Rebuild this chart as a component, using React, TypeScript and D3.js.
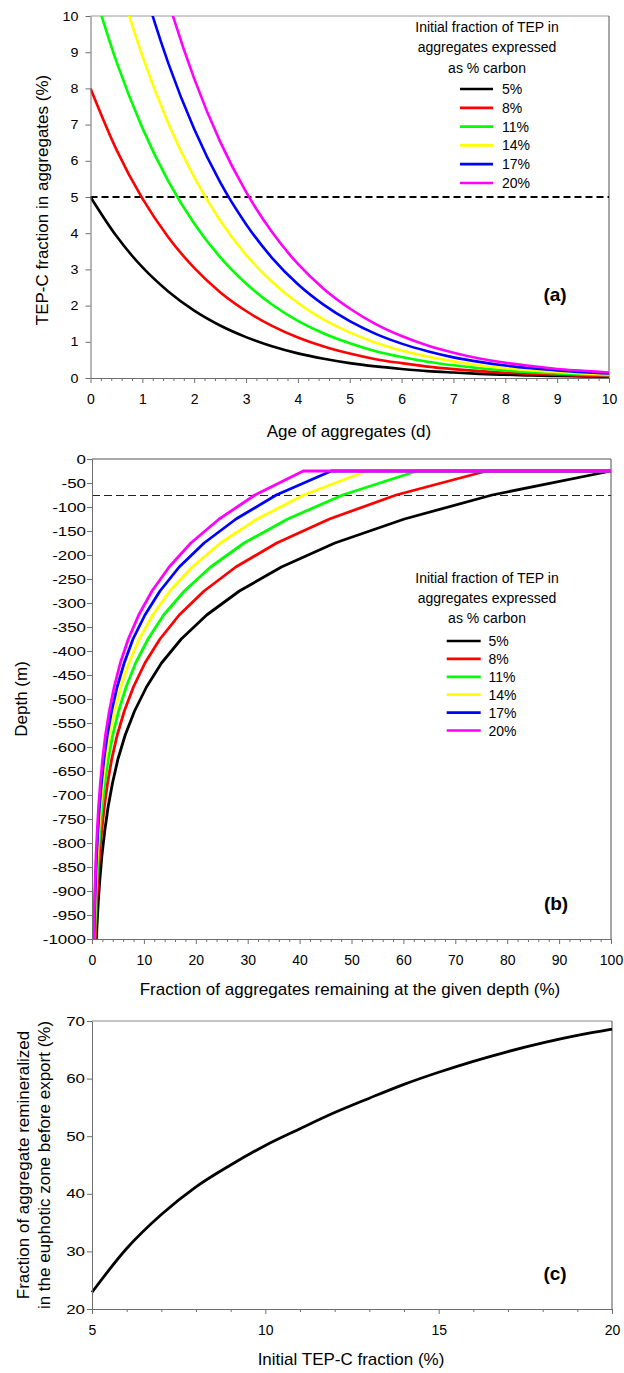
import React, { useEffect, useRef } from 'react';
import * as d3 from 'd3';

const W = 624;
const H = 1373;
const FONT = 'Liberation Sans, Arial, Helvetica, sans-serif';

// legend: initial TEP fraction (% carbon)
const initialFractions = ['5%', '8%', '11%', '14%', '17%', '20%'];
const seriesColors = ['#000000', '#ff0000', '#00ff00', '#ffff00', '#0000ff', '#ff00ff'];

// (a) TEP-C fraction in aggregates vs age
const ageDays = [0, 0.5, 1, 1.5, 2, 2.5, 3, 3.5, 4, 4.5, 5, 5.5, 6, 6.5, 7, 7.5, 8, 8.5, 9, 9.5, 10];
const tep5 = [5, 3.92, 3.06, 2.39, 1.86, 1.45, 1.13, 0.875, 0.68, 0.53, 0.41, 0.32, 0.25, 0.19, 0.15, 0.115, 0.09, 0.07, 0.054, 0.042, 0.032];
const tep8 = [8, 6.31, 4.96, 3.89, 3.04, 2.37, 1.85, 1.44, 1.12, 0.87, 0.675, 0.52, 0.41, 0.315, 0.245, 0.19, 0.147, 0.114, 0.089, 0.069, 0.053];
const tep11 = [11, 8.74, 6.91, 5.44, 4.27, 3.34, 2.61, 2.03, 1.58, 1.23, 0.96, 0.74, 0.58, 0.45, 0.35, 0.27, 0.21, 0.16, 0.126, 0.098, 0.075];
const tep14 = [14, 11.2, 8.9, 7.04, 5.55, 4.35, 3.4, 2.66, 2.07, 1.61, 1.26, 0.975, 0.76, 0.59, 0.46, 0.35, 0.27, 0.21, 0.166, 0.128, 0.099];
const tep17 = [17, 13.7, 10.95, 8.7, 6.88, 5.41, 4.25, 3.32, 2.59, 2.02, 1.57, 1.22, 0.95, 0.74, 0.57, 0.445, 0.345, 0.27, 0.21, 0.16, 0.125];
const tep20 = [20, 16.2, 13.05, 10.42, 8.27, 6.53, 5.14, 4.03, 3.15, 2.46, 1.92, 1.49, 1.16, 0.9, 0.7, 0.54, 0.42, 0.33, 0.25, 0.2, 0.15];
const tepThreshold = 5;

// (b) fraction of aggregates remaining vs depth
const depthM = [-25, -25, -75, -125, -175, -225, -275, -325, -375, -425, -475, -525, -575, -625, -675, -725, -775, -825, -875, -925, -975, -1000];
const remain5 = [100, 100, 77.1, 60.2, 46.8, 36.5, 28.4, 22.1, 17.2, 13.4, 10.5, 8.2, 6.4, 5.0, 3.95, 3.1, 2.45, 1.92, 1.52, 1.2, 0.95, 0.85];
const remain8 = [100, 76, 58.6, 45.75, 35.6, 27.7, 21.6, 16.8, 13.1, 10.2, 7.98, 6.23, 4.86, 3.8, 3.0, 2.36, 1.86, 1.46, 1.16, 0.91, 0.72, 0.65];
const remain11 = [100, 62.6, 48.3, 37.7, 29.3, 22.85, 17.8, 13.8, 10.8, 8.4, 6.57, 5.13, 4.0, 3.13, 2.47, 1.94, 1.53, 1.2, 0.95, 0.75, 0.59, 0.53];
const remain14 = [100, 52.9, 40.8, 31.8, 24.75, 19.3, 15.0, 11.7, 9.1, 7.1, 5.55, 4.34, 3.39, 2.65, 2.09, 1.64, 1.3, 1.02, 0.8, 0.63, 0.5, 0.45];
const remain17 = [100, 46.1, 35.5, 27.75, 21.6, 16.8, 13.1, 10.2, 7.9, 6.2, 4.84, 3.78, 2.95, 2.3, 1.82, 1.43, 1.13, 0.89, 0.7, 0.55, 0.44, 0.39];
const remain20 = [100, 40.7, 31.4, 24.5, 19.05, 14.86, 11.56, 9.0, 7.0, 5.45, 4.27, 3.34, 2.6, 2.04, 1.61, 1.26, 1.0, 0.78, 0.62, 0.49, 0.39, 0.35];
const euphoticDepth = -75;

// (c) fraction remineralized in euphotic zone vs initial TEP-C
const initialTep = [5, 6, 7, 8, 9, 10, 11, 12, 13, 14, 15, 16, 17, 18, 19, 20];
const remineralized = [22.9, 30.5, 36.4, 41.2, 45.0, 48.4, 51.3, 54.1, 56.6, 59.0, 61.1, 63.0, 64.7, 66.2, 67.5, 68.6];

const AXIS = '#6e6e6e';
const FRAME = '#505050';

type Sel = d3.Selection<SVGGElement, unknown, null, undefined>;

function xAxis(svg: any, x: d3.ScaleLinear<number, number>, yPos: number, majors: number[], minors: number[]) {
  const gm: Sel = svg.append('g').attr('transform', `translate(0,${yPos})`)
    .call(d3.axisBottom(x).tickValues(minors).tickSize(3).tickFormat(() => ''));
  gm.select('.domain').remove();
  gm.selectAll('line').attr('stroke', AXIS);
  const g: Sel = svg.append('g').attr('transform', `translate(0,${yPos})`)
    .call(d3.axisBottom(x).tickValues(majors).tickSize(5).tickSizeOuter(0).tickPadding(11).tickFormat(d => String(d)));
  g.attr('font-family', FONT).attr('font-size', 14);
  g.select('.domain').attr('stroke', AXIS);
  g.selectAll('line').attr('stroke', AXIS);
  g.selectAll('text').attr('fill', '#000');
}

function yAxis(svg: any, y: d3.ScaleLinear<number, number>, xPos: number, majors: number[], pad: number, sx: number) {
  const g: Sel = svg.append('g').attr('transform', `translate(${xPos},0)`)
    .call(d3.axisLeft(y).tickValues(majors).tickSize(5).tickSizeOuter(0).tickPadding(pad).tickFormat(d => String(d)));
  g.attr('font-family', FONT).attr('font-size', 13);
  g.select('.domain').attr('stroke', AXIS);
  g.selectAll('line').attr('stroke', AXIS);
  g.selectAll('text').attr('fill', '#000')
    .attr('x', -(5 + pad) / sx)
    .attr('transform', `scale(${sx},1)`);
}

function label(svg: any, txt: string, x: number, y: number, size: number, rotate = false, bold = false) {
  svg.append('text')
    .attr('transform', rotate ? `translate(${x},${y}) rotate(-90)` : `translate(${x},${y})`)
    .attr('text-anchor', 'middle')
    .attr('font-family', FONT)
    .attr('font-size', size)
    .attr('font-weight', bold ? 'bold' : 'normal')
    .attr('fill', '#000')
    .text(txt);
}

function legend(svg: any, cx: number, titleY: number[], lx0: number, lx1: number, tx: number, y0: number, dy: number) {
  const title = ['Initial fraction of TEP in', 'aggregates expressed', 'as % carbon'];
  title.forEach((t, i) => label(svg, t, cx, titleY[i], 14));
  initialFractions.forEach((name, i) => {
    const y = y0 + i * dy;
    svg.append('line').attr('x1', lx0).attr('x2', lx1).attr('y1', y).attr('y2', y)
      .attr('stroke', seriesColors[i]).attr('stroke-width', 2.7);
    svg.append('text').attr('x', tx).attr('y', y + 5)
      .attr('font-family', FONT).attr('font-size', 14).attr('fill', '#000').text(name);
  });
}

const App: React.FC = () => {
  const svgRef = useRef<SVGSVGElement>(null);

  useEffect(() => {
    if (!svgRef.current) return;
    const svg = d3.select(svgRef.current);
    svg.selectAll('*').remove();
    svg.append('rect').attr('width', W).attr('height', H).attr('fill', '#fff');
    const defs = svg.append('defs');

    // ---------- (a)
    const pa = { left: 90.5, right: 609, top: 16, bottom: 378 };
    const xa = d3.scaleLinear().domain([0, 10]).range([pa.left, pa.right]);
    const ya = d3.scaleLinear().domain([0, 10]).range([pa.bottom, pa.top]);
    defs.append('clipPath').attr('id', 'clipA').append('rect')
      .attr('x', pa.left).attr('y', pa.top).attr('width', pa.right - pa.left).attr('height', pa.bottom - pa.top);

    svg.append('line').attr('x1', pa.left).attr('x2', pa.right).attr('y1', pa.top).attr('y2', pa.top).attr('stroke', '#9a9a9a');
    svg.append('line').attr('x1', pa.right).attr('x2', pa.right).attr('y1', pa.top).attr('y2', pa.bottom).attr('stroke', FRAME);

    svg.append('line')
      .attr('x1', xa(0)).attr('x2', xa(10)).attr('y1', ya(tepThreshold)).attr('y2', ya(tepThreshold))
      .attr('stroke', '#000').attr('stroke-width', 2).attr('stroke-dasharray', '7,4');

    const lineA = d3.line<number>().x((_, i) => xa(ageDays[i])).y(d => ya(d)).curve(d3.curveMonotoneX);
    const gA = svg.append('g').attr('clip-path', 'url(#clipA)');
    [tep5, tep8, tep11, tep14, tep17, tep20].forEach((s, i) => {
      gA.append('path').attr('d', lineA(s) as string).attr('fill', 'none')
        .attr('stroke', seriesColors[i]).attr('stroke-width', 2.6);
    });

    xAxis(svg, xa, pa.bottom, d3.range(0, 11), d3.range(0, 50).map(v => v / 5).filter(v => v % 1 !== 0));
    yAxis(svg, ya, pa.left, d3.range(0, 11), 7, 1.1);
    label(svg, 'TEP-C fraction in aggregates (%)', 48, 200, 17, true);
    label(svg, 'Age of aggregates (d)', 349, 437, 17);
    legend(svg, 487, [31.5, 52, 73], 460, 493, 502, 89, 18.8);
    label(svg, '(a)', 555, 301, 19, false, true);

    // ---------- (b)
    const pb = { left: 92, right: 611, top: 459, bottom: 939 };
    const xb = d3.scaleLinear().domain([0, 100]).range([pb.left, pb.right]);
    const yb = d3.scaleLinear().domain([-1000, 0]).range([pb.bottom, pb.top]);

    svg.append('line').attr('x1', pb.left).attr('x2', pb.right).attr('y1', pb.top).attr('y2', pb.top).attr('stroke', FRAME);
    svg.append('line').attr('x1', pb.right).attr('x2', pb.right).attr('y1', pb.top).attr('y2', pb.bottom).attr('stroke', FRAME);

    // thin dashed line at the base of the euphotic zone (half-pixel offset keeps it crisp)
    svg.append('line')
      .attr('x1', xb(0)).attr('x2', xb(100))
      .attr('y1', yb(euphoticDepth) + 0.5).attr('y2', yb(euphoticDepth) + 0.5)
      .attr('stroke', '#222').attr('stroke-width', 1).attr('stroke-dasharray', '8,4');

    const lineB = d3.line<number>().x(d => xb(d)).y((_, i) => yb(depthM[i]));
    [remain5, remain8, remain11, remain14, remain17, remain20].forEach((s, i) => {
      svg.append('path').attr('d', lineB(s) as string).attr('fill', 'none')
        .attr('stroke', seriesColors[i]).attr('stroke-width', 2.8).attr('stroke-linejoin', 'round');
    });

    xAxis(svg, xb, pb.bottom, d3.range(0, 101, 10), d3.range(0, 101, 2).filter(v => v % 10 !== 0));
    yAxis(svg, yb, pb.left, d3.range(-1000, 1, 50), 1, 1.3);
    label(svg, 'Depth (m)', 27, 699, 17, true);
    label(svg, 'Fraction of aggregates remaining at the given depth (%)', 350, 995, 17);
    legend(svg, 487, [582.7, 603.3, 623.3], 446.7, 480.7, 488.5, 641, 17.9);
    label(svg, '(b)', 556, 910, 19, false, true);

    // ---------- (c)
    const pc = { left: 92, right: 612, top: 1021, bottom: 1309 };
    const xc = d3.scaleLinear().domain([5, 20]).range([pc.left, pc.right]);
    const yc = d3.scaleLinear().domain([20, 70]).range([pc.bottom, pc.top]);

    svg.append('line').attr('x1', pc.left).attr('x2', pc.right).attr('y1', pc.top).attr('y2', pc.top).attr('stroke', '#8a8a8a');
    svg.append('line').attr('x1', pc.right).attr('x2', pc.right).attr('y1', pc.top).attr('y2', pc.bottom).attr('stroke', FRAME);

    const lineC = d3.line<number>().x((_, i) => xc(initialTep[i])).y(d => yc(d)).curve(d3.curveMonotoneX);
    svg.append('path').attr('d', lineC(remineralized) as string).attr('fill', 'none')
      .attr('stroke', '#000').attr('stroke-width', 2.8);

    xAxis(svg, xc, pc.bottom, [5, 10, 15, 20], d3.range(5, 21).filter(v => v % 5 !== 0));
    yAxis(svg, yc, pc.left, d3.range(20, 71, 10), 2, 1.3);
    label(svg, 'Fraction of aggregate remineralized', 29, 1165, 17, true);
    label(svg, 'in the euphotic zone before export (%)', 50, 1165, 17, true);
    label(svg, 'Initial TEP-C fraction (%)', 351, 1365, 17);
    label(svg, '(c)', 555, 1280, 19, false, true);
  }, []);

  return (
    <svg
      ref={svgRef}
      width={W}
      height={H}
      style={{ position: 'absolute', left: 0, top: 0, display: 'block' }}
    />
  );
};

export default App;
